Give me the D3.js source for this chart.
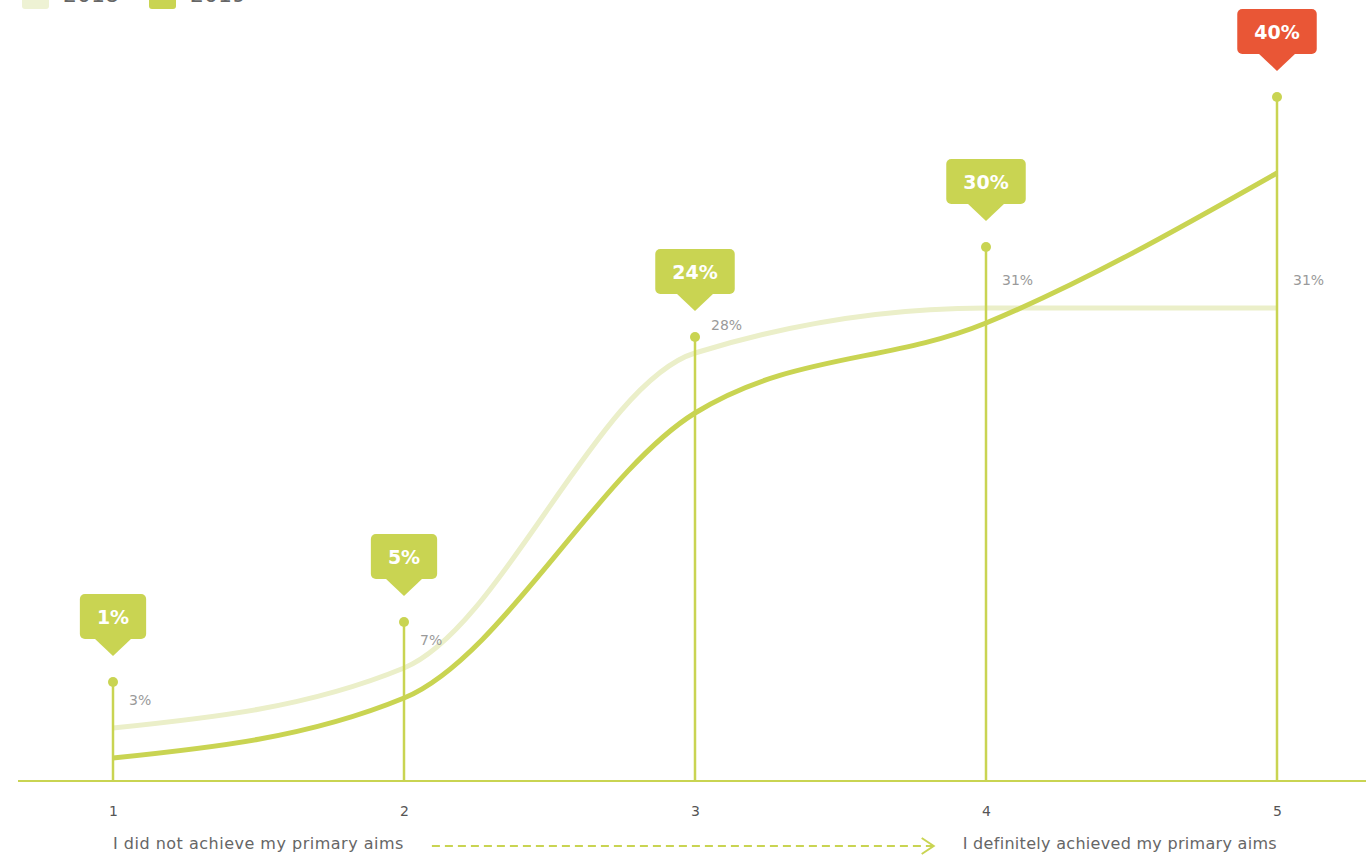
<!DOCTYPE html>
<html>
<head>
<meta charset="utf-8">
<script src="https://cdn.jsdelivr.net/npm/d3@7"></script>
<style>
  html, body { margin: 0; padding: 0; background: #fff; overflow: hidden; }
  svg { display: block; font-family: "DejaVu Sans", "Open Sans", sans-serif; }
</style>
</head>
<body>
<svg id="chart" width="1366" height="855"></svg>
<script>
// Survey answers on a 1–5 scale, share of respondents per answer
const categories = [1, 2, 3, 4, 5];
const years = ["2018", "2019"];
const values2018 = [3, 7, 28, 31, 31];
const values2019 = [1, 5, 24, 30, 40];
const scaleLabels = ["I did not achieve my primary aims", "I definitely achieved my primary aims"];

const GREEN = "#c9d452";
const PALE = "#ebefc9";
const RED = "#e95636";

const svg = d3.select("#chart");

const x = d3.scalePoint().domain(categories).range([113, 1277]);
const y = d3.scaleLinear().domain([0, 50]).range([773, 23]);
const baseY = 781;
const stemRise = 76; // stems stand above the 2019 curve point

// legend (sits partly above the visible area)
const legend = svg.append("g").attr("class", "legend");
years.forEach((yr, i) => {
  const g = legend.append("g").attr("transform", `translate(${22 + i * 127},0)`);
  g.append("rect").attr("x", 0).attr("y", -18).attr("width", 27).attr("height", 27)
    .attr("rx", 3).attr("fill", i === 0 ? "#eef2d4" : GREEN);
  g.append("text").attr("x", 41).attr("y", 2).attr("font-size", 22)
    .attr("fill", "#666").text(yr);
});

// baseline
svg.append("line").attr("x1", 18).attr("x2", 1366).attr("y1", baseY).attr("y2", baseY)
  .attr("stroke", GREEN).attr("stroke-width", 2);

// curves
const line = d3.line()
  .x((d, i) => x(categories[i]))
  .y(d => y(d))
  .curve(d3.curveMonotoneX);

svg.append("path").datum(values2018).attr("d", line)
  .attr("fill", "none").attr("stroke", PALE).attr("stroke-width", 5);
svg.append("path").datum(values2019).attr("d", line)
  .attr("fill", "none").attr("stroke", GREEN).attr("stroke-width", 5);

// stems and dots for 2019
const stems = svg.append("g").selectAll("g").data(categories).join("g");
stems.append("line")
  .attr("x1", d => x(d)).attr("x2", d => x(d))
  .attr("y1", baseY).attr("y2", (d, i) => y(values2019[i]) - stemRise)
  .attr("stroke", GREEN).attr("stroke-width", 2.5);
stems.append("circle")
  .attr("cx", d => x(d)).attr("cy", (d, i) => y(values2019[i]) - stemRise)
  .attr("r", 5).attr("fill", GREEN);

// 2018 value labels
svg.append("g").selectAll("text").data(categories).join("text")
  .attr("x", d => x(d) + 16)
  .attr("y", (d, i) => y(values2018[i]) - 28)
  .attr("dy", "0.35em")
  .attr("font-size", 14).attr("fill", "#9a9a9a")
  .text((d, i) => values2018[i] + "%");

// 2019 callouts
const maxV = d3.max(values2019);
const callouts = svg.append("g").selectAll("g").data(categories).join("g")
  .attr("transform", (d, i) => `translate(${x(d)},${y(values2019[i]) - stemRise})`);
callouts.each(function (d, i) {
  const g = d3.select(this);
  const fill = values2019[i] === maxV ? RED : GREEN;
  const label = g.append("text")
    .attr("x", 0).attr("y", -65).attr("dy", "0.36em")
    .attr("text-anchor", "middle").attr("font-size", 19).attr("font-weight", 700)
    .attr("fill", "#fff").text(values2019[i] + "%");
  const w = label.node().getComputedTextLength() + 34;
  g.insert("rect", "text")
    .attr("x", -w / 2).attr("y", -88).attr("width", w).attr("height", 45)
    .attr("rx", 5).attr("fill", fill);
  g.insert("path", "text")
    .attr("d", "M-19,-44 L0,-26 L19,-44 Z").attr("fill", fill);
});

// category axis
const axis = d3.axisBottom(x).tickSize(0).tickPadding(0);
const axisG = svg.append("g").attr("transform", `translate(0,${baseY})`).call(axis);
axisG.select(".domain").remove();
axisG.selectAll("text").attr("y", 30).attr("dy", "0.35em")
  .attr("font-size", 14).attr("fill", "#555")
  .attr("font-family", "\"DejaVu Sans\", sans-serif");

// scale end labels and dashed arrow between them
const leftText = svg.append("text").attr("x", x(1)).attr("y", 843).attr("dy", "0.35em")
  .attr("font-size", 16).attr("fill", "#666").attr("text-anchor", "start")
  .attr("letter-spacing", 0.5)
  .text(scaleLabels[0]);
const rightText = svg.append("text").attr("x", x(5)).attr("y", 843).attr("dy", "0.35em")
  .attr("font-size", 16).attr("fill", "#666").attr("text-anchor", "end")
  .attr("letter-spacing", 0.3)
  .text(scaleLabels[1]);

const ax1 = x(1) + leftText.node().getComputedTextLength() + 28;
const ax2 = x(5) - rightText.node().getComputedTextLength() - 29;
svg.append("line").attr("x1", ax1).attr("x2", ax2).attr("y1", 846).attr("y2", 846)
  .attr("stroke", GREEN).attr("stroke-width", 2).attr("stroke-dasharray", "8 5");
svg.append("path")
  .attr("d", `M${ax2 - 12},838 L${ax2},846 L${ax2 - 12},854`)
  .attr("fill", "none").attr("stroke", GREEN).attr("stroke-width", 2);
</script>
</body>
</html>
